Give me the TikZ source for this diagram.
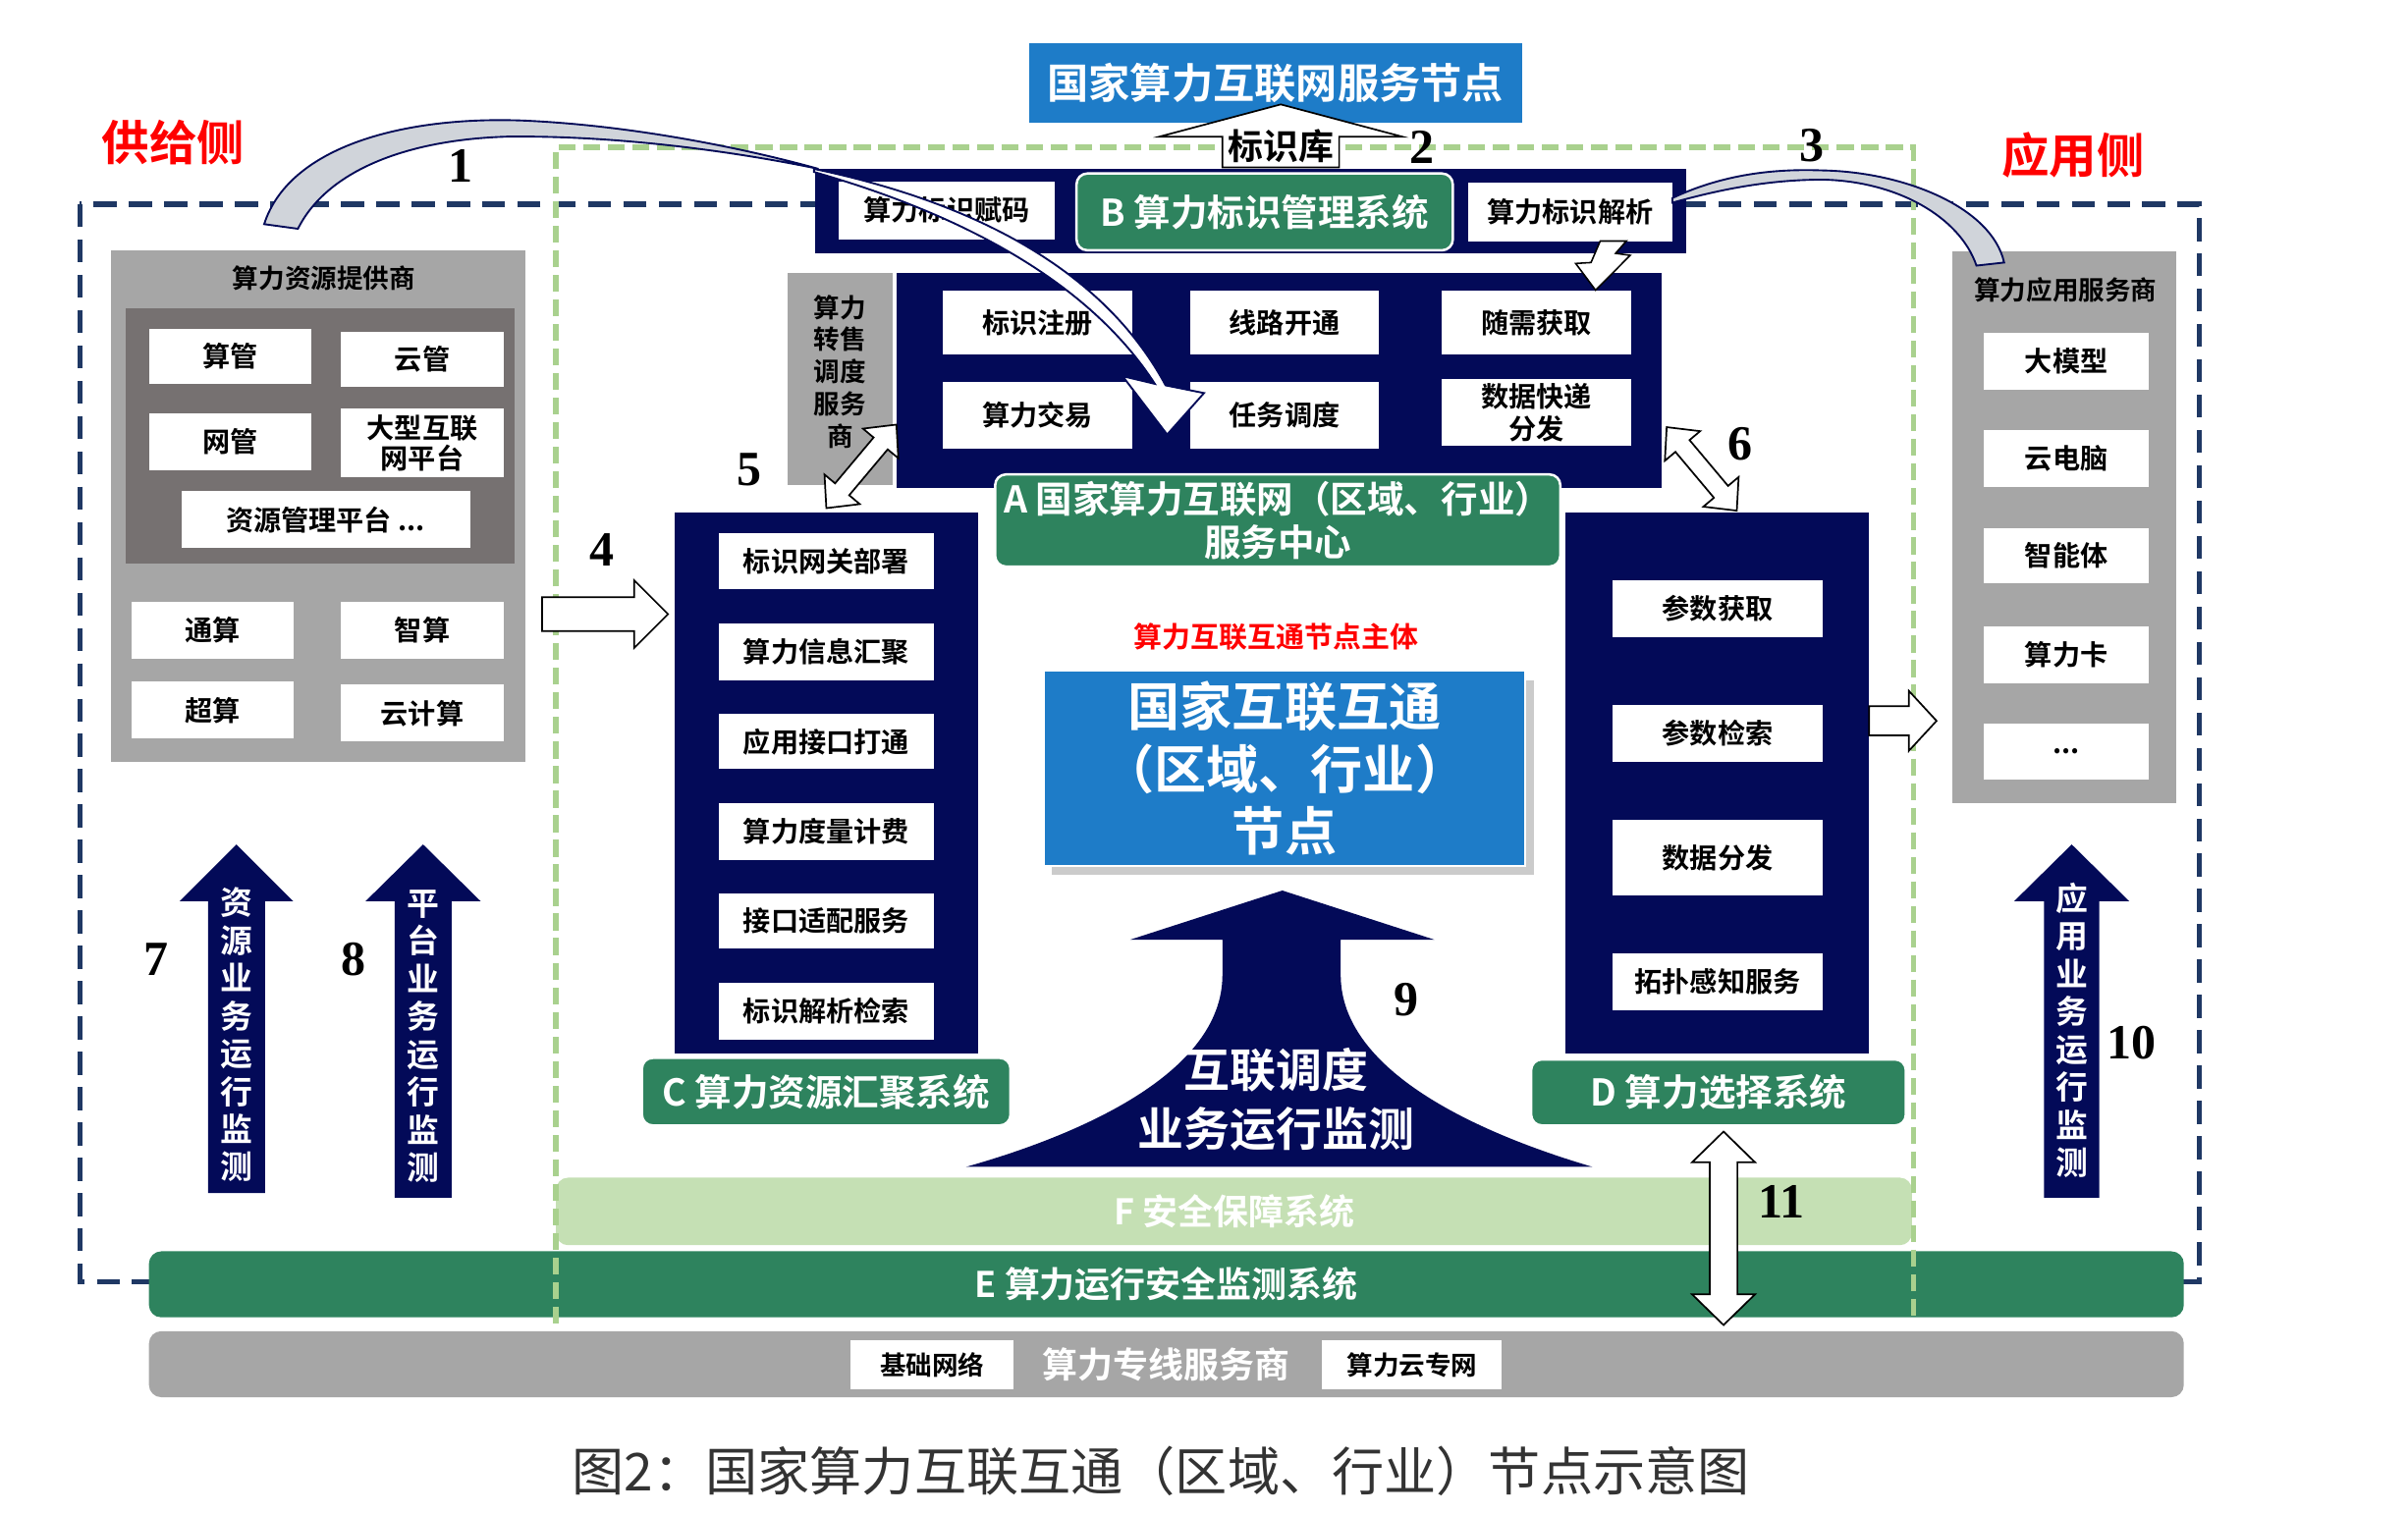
\documentclass[tikz,border=0pt]{standalone}
\usepackage{fontspec}
\setmainfont{Noto Sans CJK SC}[BoldFont={* Bold}]
\newfontfamily\numfont{Liberation Serif}
\newcommand\fs[1]{\fontsize{#1}{#1}\selectfont}
\newcommand\bx[6]{\node[#5,minimum width={(#3-#1)*1pt},minimum height={(#4-#2)*1pt}] (#6) at ({(#1+#3)/2},{(#2+#4)/2})}
\newcommand\dblarr[7]{\begin{scope}[shift={(#1,#2)},rotate=#3]\filldraw[oarr] ({-#4/2},0) -- ({-#4/2+#5},#6) -- ({-#4/2+#5},#7) -- ({#4/2-#5},#7) -- ({#4/2-#5},#6) -- ({#4/2},0) -- ({#4/2-#5},-#6) -- ({#4/2-#5},-#7) -- ({-#4/2+#5},-#7) -- ({-#4/2+#5},-#6) -- cycle;\end{scope}}
\newcommand\uparr[6]{\fill[varr] (#1,#2) -- ({#1+#5},#3) -- ({#1+#6},#3) -- ({#1+#6},#4) -- ({#1-#6},#4) -- ({#1-#6},#3) -- ({#1-#5},#3) -- cycle;}
\definecolor{nv}{RGB}{3,10,88}
\definecolor{ndash}{RGB}{31,56,100}
\definecolor{gdash}{RGB}{169,209,142}
\definecolor{gr}{RGB}{46,131,94}
\definecolor{lgr}{RGB}{197,224,180}
\definecolor{gy}{RGB}{166,166,166}
\definecolor{dgy}{RGB}{118,113,113}
\definecolor{bl}{RGB}{30,124,200}
\definecolor{bandgy}{RGB}{208,212,218}
\tikzset{
 wbox/.style={fill=white,inner sep=0pt,outer sep=0pt,align=center,font=\bfseries\fs{18},text=black},
 blk/.style={fill=nv,inner sep=0pt,outer sep=0pt},
 gbox/.style={fill=gy,inner sep=0pt,outer sep=0pt},
 glab/.style={fill=gr,draw=white,line width=1.6pt,rounded corners=7pt,inner sep=0pt,outer sep=0pt,text=white,align=center,font=\bfseries\fs{24}},
 bar/.style={rounded corners=8pt,inner sep=0pt,outer sep=0pt,text=white,font=\bfseries\fs{23}},
 num/.style={font=\numfont\bfseries\fs{32},inner sep=0pt},
 oarr/.style={fill=white,draw=black,line width=1.1pt,line join=miter},
 varr/.style={fill=nv},
 vtxt/.style={text=white,font=\bfseries\fontsize{21}{24.6}\selectfont,align=center,inner sep=0pt},
 side/.style={text=red,font=\bfseries\fs{31},inner sep=0pt},
 band/.style={fill=bandgy,draw=nv,line width=1.2pt},
}
\begin{document}
\begin{tikzpicture}[x=1pt,y=-1pt]
\fill[white] (0,0) rectangle (1568,985);
\useasboundingbox (0,0) rectangle (1568,985);

% outer navy dashed frame
\draw[ndash,line width=3.4pt,dash pattern=on 15pt off 8pt] (52,133) rectangle (1432,835);

% bottom bars
\bx{97}{867}{1422}{910}{bar,fill=gy}{netbar}{算力专线服务商};
\bx{554}{873}{660}{905}{wbox,font=\bfseries\fs{17}}{jcwl}{基础网络};
\bx{861}{873}{978}{905}{wbox,font=\bfseries\fs{17}}{slyzw}{算力云专网};
\bx{97}{815}{1422}{858}{bar,fill=gr}{ebar}{E 算力运行安全监测系统};
\bx{362}{767}{1245}{811}{bar,fill=lgr}{fbar}{F 安全保障系统};

% green dashed frame
\draw[gdash,line width=3.6pt,dash pattern=on 11pt off 5pt] (362,862) -- (362,96) -- (1246,96) -- (1246,862);

% supply side
\bx{72}{163}{342}{496}{gbox}{supply}{};
\node[font=\bfseries\fs{17}] (supt) at (211,181) {算力资源提供商};
\bx{82}{201}{335}{367}{fill=dgy,inner sep=0pt}{supin}{};
\bx{97}{214}{203}{250}{wbox}{sg}{算管};
\bx{222}{216}{328}{252}{wbox}{yg}{云管};
\bx{97}{269}{203}{306}{wbox}{wg}{网管};
\bx{222}{266}{328}{311}{wbox,font=\bfseries\fontsize{18}{20}\selectfont}{dxhl}{大型互联\\网平台};
\bx{118}{320}{306}{357}{wbox}{zygl}{资源管理平台 ...};
\bx{86}{392}{191}{429}{wbox}{ts}{通算};
\bx{222}{392}{328}{429}{wbox}{zs}{智算};
\bx{86}{444}{191}{481}{wbox}{cs}{超算};
\bx{222}{446}{328}{483}{wbox}{yjs}{云计算};

% title
\bx{670}{28}{991}{80}{fill=bl,inner sep=0pt,text=white,font=\bfseries\fs{27}}{title}{国家算力互联网服务节点};

% B bar
\bx{531}{110}{1098}{165}{blk}{bbar}{};
\bx{546}{118}{687}{156}{wbox}{bfm}{算力标识赋码};
\bx{956}{119}{1089}{157}{wbox}{bjx}{算力标识解析};
\bx{701}{113}{946}{163}{glab}{blab}{B 算力标识管理系统};

% identifier library arrow
\filldraw[oarr] (755,89) -- (834,68) -- (913,89) -- (872,89) -- (872,109) -- (796,109) -- (796,89) -- cycle;
\node[font=\bfseries\fs{23},inner sep=0pt] (bsk) at (834,95) {标识库};

% A block
\bx{584}{178}{1082}{318}{blk}{ablk}{};
\bx{513}{178}{581}{316}{gbox}{resell}{};
\node[font=\bfseries\fontsize{17}{21}\selectfont,align=center,inner sep=0pt] (resellt) at (547,242) {算力\\转售\\调度\\服务\\商};
\bx{614}{189}{737}{231}{wbox}{bszc}{标识注册};
\bx{775}{189}{898}{231}{wbox}{xlkt}{线路开通};
\bx{939}{189}{1062}{231}{wbox}{sxhq}{随需获取};
\bx{614}{249}{737}{292}{wbox}{sljy}{算力交易};
\bx{775}{249}{898}{292}{wbox}{rwdd}{任务调度};
\bx{939}{247}{1062}{290}{wbox,font=\bfseries\fontsize{18}{21}\selectfont}{sjkd}{数据快递\\分发};
\bx{648}{309}{1016}{369}{glab,font=\bfseries\fontsize{24}{28}\selectfont}{alab}{A 国家算力互联网（区域、行业）\\服务中心};

% C block
\bx{439}{334}{637}{686}{blk}{cblk}{};
\bx{468}{347}{608}{384}{wbox}{c1}{标识网关部署};
\bx{468}{406}{608}{443}{wbox}{c2}{算力信息汇聚};
\bx{468}{465}{608}{501}{wbox}{c3}{应用接口打通};
\bx{468}{523}{608}{560}{wbox}{c4}{算力度量计费};
\bx{468}{582}{608}{618}{wbox}{c5}{接口适配服务};
\bx{468}{640}{608}{677}{wbox}{c6}{标识解析检索};
\bx{418}{689}{658}{733}{glab}{clab}{C 算力资源汇聚系统};

% D block
\bx{1019}{334}{1217}{686}{blk}{dblk}{};
\bx{1050}{378}{1187}{415}{wbox}{d1}{参数获取};
\bx{1050}{459}{1187}{496}{wbox}{d2}{参数检索};
\bx{1050}{534}{1187}{583}{wbox}{d3}{数据分发};
\bx{1050}{621}{1187}{658}{wbox}{d4}{拓扑感知服务};
\bx{997}{690}{1241}{733}{glab}{dlab}{D 算力选择系统};

% center node
\fill[black!40,opacity=0.5] (685,443) rectangle (999,570);
\bx{680}{437}{993}{564}{fill=bl,draw=white,line width=1pt,text=white,font=\bfseries\fontsize{34}{40.5}\selectfont,align=center,inner sep=0pt}{center}{国家互联互通\\（区域、行业）\\节点};
\node[text=red,font=\bfseries\fs{18.5}] (redt) at (831,415) {算力互联互通节点主体};

% arrow 9
\fill[nv] (835,580) -- (934,612) -- (873,612) -- (873,635) .. controls (873,700) and (969,740) .. (1037,760) -- (629,760) .. controls (700,740) and (796,700) .. (796,635) -- (796,612) -- (736,612) -- cycle;
\node[text=white,font=\bfseries\fontsize{30}{38}\selectfont,align=center] (a9t) at (831,716) {互联调度\\业务运行监测};

% application side
\bx{1271}{164}{1417}{523}{gbox}{app}{};
\node[font=\bfseries\fs{17}] (appt) at (1345,189) {算力应用服务商};
\bx{1292}{217}{1399}{254}{wbox}{dmx}{大模型};
\bx{1292}{280}{1399}{317}{wbox}{ydn}{云电脑};
\bx{1292}{344}{1399}{380}{wbox}{znt}{智能体};
\bx{1292}{408}{1399}{445}{wbox}{slk}{算力卡};
\bx{1292}{471}{1399}{508}{wbox}{etc}{...};

% block arrows
\filldraw[oarr] (353,389) -- (413,389) -- (413,378) -- (435,400) -- (413,422) -- (413,411) -- (353,411) -- cycle;
\filldraw[oarr] (1217,460) -- (1243,460) -- (1243,450) -- (1261,469.5) -- (1243,489) -- (1243,479) -- (1217,479) -- cycle;
\dblarr{560.9}{303.75}{-130}{71}{16}{15}{6}
\dblarr{1108.1}{305.4}{-50}{71}{16}{15}{6}
\dblarr{1122.3}{800}{90}{126}{20}{20.5}{9}
\filldraw[fill=white,draw=black,line width=1pt,line join=miter] (1042,157) -- (1059,157) -- (1052,165) -- (1061.5,166.3) -- (1039,189) -- (1026,171.6) -- (1036,171) -- cycle;

% monitoring arrows
\uparr{154}{550}{587}{777}{37}{18.5}
\uparr{275.5}{550}{587}{780}{37.5}{18.5}
\uparr{1349}{550}{587}{780}{37.5}{18}
\node[vtxt] (t7) at (154,674) {资\\源\\业\\务\\运\\行\\监\\测};
\node[vtxt] (t8) at (275.5,675) {平\\台\\业\\务\\运\\行\\监\\测};
\node[vtxt] (t10) at (1349,671) {应\\用\\业\\务\\运\\行\\监\\测};

% curved arrow 1
\filldraw[band] (172,146) .. controls (189,93) and (270,74) .. (350,79) .. controls (420,83) and (490,98) .. (533,110) .. controls (490,101) and (410,88) .. (330,89) .. controls (265,91) and (213,111) .. (194,149) -- cycle;
\filldraw[fill=white,draw=nv,line width=1.2pt,line join=miter] (530,110) .. controls (645,134) and (722,182) .. (759,251) -- (784,256) -- (760,283) -- (731,245) -- (752,250) .. controls (712,188) and (635,142) .. (530,112) -- cycle;

% curved arrow 3
\filldraw[band] (1089,129) .. controls (1125,112) and (1160,110) .. (1187,111) .. controls (1240,112) and (1297,135) .. (1305,171) -- (1287,173) .. controls (1276,141) and (1235,118) .. (1187,117) .. controls (1150,117) and (1118,124) .. (1089,132) -- cycle;

% side labels
\node[side] (sup) at (113,93) {供给侧};
\node[side] (appside) at (1350,101) {应用侧};

% numbers
\node[num] (n1) at (300,108) {1};
\node[num] (n2) at (926,96) {2};
\node[num] (n3) at (1180,95) {3};
\node[num] (n4) at (392,358) {4};
\node[num] (n5) at (488,306) {5};
\node[num] (n6) at (1133,289) {6};
\node[num] (n7) at (102,625) {7};
\node[num] (n8) at (230,625) {8};
\node[num] (n9) at (916,651) {9};
\node[num] (n10) at (1388,679) {10};
\node[num] (n11) at (1160,783) {11};

% caption
\node[font=\fs{34},text=black!80] (cap) at (756,958) {图2：国家算力互联互通（区域、行业）节点示意图};
\end{tikzpicture}
\end{document}
